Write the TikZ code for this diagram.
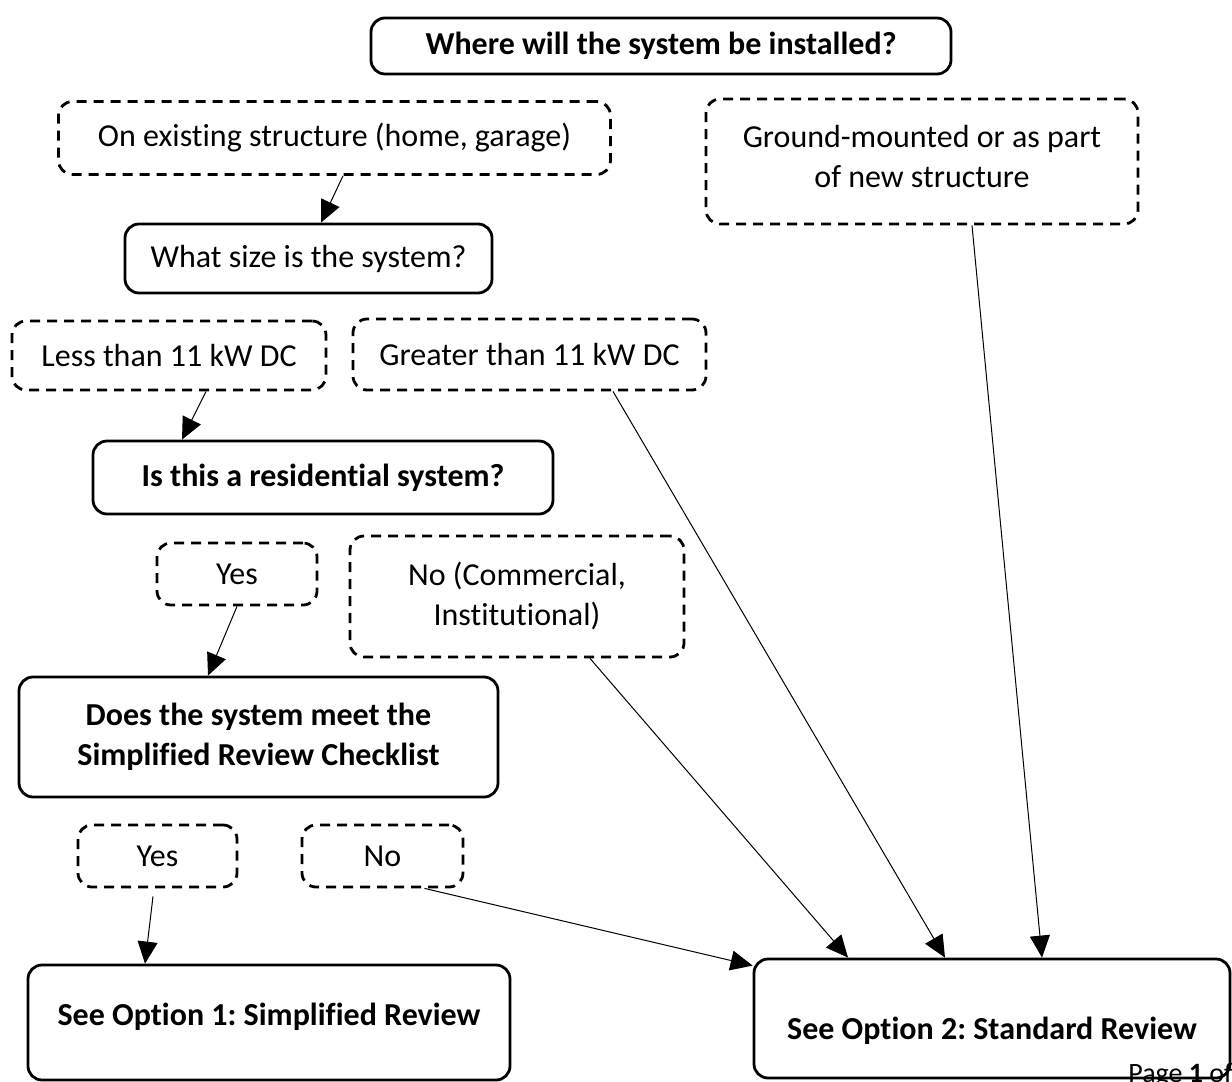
\documentclass[tikz,border=0pt]{standalone}
\usepackage{fontspec}
\setmainfont{Carlito}[Ligatures=NoCommon]
\usetikzlibrary{arrows.meta,calc}

\begin{document}
\frenchspacing
\begin{tikzpicture}[x=0.5pt,y=-0.5pt,>={Triangle[length=11pt,width=10pt]},
  font=\fontsize{16}{20}\selectfont,
  solidbox/.style={draw,line width=1.4pt,rounded corners=7pt,align=center,font=\fontsize{16}{20}\selectfont\bfseries},
  dashbox/.style={draw,line width=1.4pt,dash pattern=on 5pt off 3.5pt,rounded corners=7pt,align=center},
  link/.style={->,line width=0.5pt}]

\clip (0,0) rectangle (1232,1082);

%% questions
\node[solidbox,minimum width=290pt,minimum height=28pt] (where) at (661,46) {Where will the system be installed?};
\node[solidbox,font=\fontsize{16}{20}\selectfont,minimum width=183.5pt,minimum height=34.5pt] (size) at (308.5,258.5) {What size is the system?};
\node[solidbox,minimum width=230pt,minimum height=36.5pt] (resid) at (323,477.5) {Is this a residential system?};
\node[solidbox,minimum width=239.5pt,minimum height=60pt] (check) at (258.5,737) {Does the system meet the\\Simplified Review Checklist};

%% answers
\node[dashbox,minimum width=276pt,minimum height=36.5pt] (exist) at (334.5,138) {On existing structure (home, garage)};
\node[dashbox,minimum width=216pt,minimum height=62.5pt,text depth=5pt] (ground) at (922,161.5) {Ground-mounted or as part\\of new structure};
\node[dashbox,minimum width=157pt,minimum height=34.5pt] (less) at (169,355.5) {Less than 11 kW DC};
\node[dashbox,minimum width=176.5pt,minimum height=35.5pt] (greater) at (529.5,354.5) {Greater than 11 kW DC};
\node[dashbox,minimum width=80pt,minimum height=31pt] (yesres) at (237,574) {Yes};
\node[dashbox,minimum width=167pt,minimum height=60.5pt] (nores) at (517,596.5) {No (Commercial,\\Institutional)};
\node[dashbox,minimum width=79.5pt,minimum height=31pt] (yeschk) at (157.5,856) {Yes};
\node[dashbox,minimum width=80.5pt,minimum height=31pt] (nochk) at (382.5,856) {No};

%% outcomes
\node[solidbox,minimum width=241pt,minimum height=57.5pt,text height=11.5pt,text depth=8.5pt] (opt1) at (269,1022.5) {See Option 1: Simplified Review};
\node[solidbox,minimum width=238pt,minimum height=59.5pt,text height=24.5pt,text depth=3.5pt] (opt2) at (992,1018.5) {See Option 2: Standard Review};
\node[anchor=base west,inner sep=0pt,font=\fontsize{14}{16}\selectfont] (page) at (1128,1082) {Page \textbf{1} of};

%% arrows
\draw[link] ([xshift=4.25pt]exist.south) -- ([xshift=6.25pt]size.north);
\draw[link] ([xshift=25pt]ground.south) -- ([xshift=25pt]opt2.north);
\draw[link] ([xshift=18.5pt]less.south) -- ([xshift=-70.5pt]resid.north);
\draw[link] ([xshift=41.75pt]greater.south) -- ([xshift=-23.5pt]opt2.north);
\draw[link] (yesres.south) -- ([xshift=-25.25pt]check.north);
\draw[link] ([xshift=36.5pt]nores.south) -- ([xshift=-72pt]opt2.north);
\draw[link] ([xshift=-2.25pt,yshift=-4pt]yeschk.south) -- ([xshift=-62pt]opt1.north);
\draw[link] ([xshift=21pt]nochk.south) -- ([yshift=-4pt]opt2.north west);
\end{tikzpicture}
\end{document}
